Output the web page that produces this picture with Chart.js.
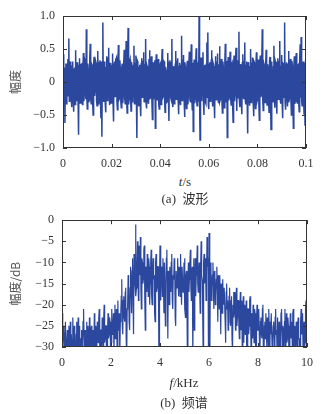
<!DOCTYPE html>
<html>
<head>
<meta charset="utf-8">
<script src="https://cdn.jsdelivr.net/npm/chart.js@4"></script>
<style>
  body { margin: 0; background: #fff; width: 323px; height: 414px; position: relative; overflow: hidden; }
  canvas { position: absolute; left: 0; }
  .lbl { position: absolute; transform: translate(-50%, -50%); white-space: nowrap;
         font-family: "Liberation Serif", "Noto Sans CJK SC", serif; font-size: 13px; color: #333; }
</style>
</head>
<body>
<canvas id="wave" width="323" height="172" style="top:0"></canvas>
<canvas id="spec" width="323" height="166" style="top:205px"></canvas>
<div class="lbl" style="left:185px;top:182px"><i>t</i>/s</div>
<div class="lbl" style="left:185px;top:197px">(a)&nbsp;&nbsp;波形</div>
<div class="lbl" style="left:184px;top:383px"><i>f</i>/kHz</div>
<div class="lbl" style="left:184px;top:401px">(b)&nbsp;&nbsp;频谱</div>
<script>
// (a) waveform, one sample every 0.2 ms from 0 to 0.1 s
const waveStep = 0.0002;
const waveValues = [
  0.42,-0.25,-0.31,0.22,-0.62,0.18,0.28,-0.33,-0.18,0.27,0.35,-0.21,0.66,-0.29,-0.24,0.31,0.12,-0.26,-0.38,0.24,
  0.31,-0.28,-0.45,0.19,0.22,-0.34,0.48,-0.23,-0.29,0.30,0.17,-0.27,-0.80,0.25,0.36,-0.32,-0.21,0.26,0.27,-0.30,
  -0.34,0.24,0.44,-0.29,-0.15,0.33,0.30,-0.26,0.80,-0.22,-0.41,0.28,0.19,-0.31,-0.27,0.35,0.58,-0.24,-0.33,0.27,
  0.25,-0.30,-0.50,0.26,0.38,-0.21,-0.12,0.32,0.29,-0.28,-0.36,0.23,0.47,-0.33,-0.22,0.29,0.33,-0.25,-0.55,0.31,
  -0.83,0.27,0.90,-0.26,-0.30,0.31,0.24,-0.34,-0.46,0.22,0.39,-0.28,-0.18,0.36,0.52,-0.23,-0.35,0.29,0.21,-0.32,
  -0.28,0.25,0.43,-0.31,-0.60,0.27,0.31,-0.22,-0.16,0.34,0.37,-0.29,-0.42,0.24,0.56,-0.27,-0.25,0.33,0.19,-0.30,
  -0.39,0.23,0.28,-0.32,-0.21,0.29,0.49,-0.25,-0.33,0.30,0.62,-0.28,-0.47,0.26,0.82,-0.34,-0.26,0.31,0.34,-0.22,
  -0.44,0.30,0.23,-0.27,-0.31,0.25,0.55,-0.33,-0.19,0.28,0.40,-0.24,-0.85,0.32,0.30,-0.29,-0.37,0.22,0.26,-0.35,
  -0.52,0.28,0.36,-0.23,-0.14,0.31,0.45,-0.30,-0.29,0.26,0.65,-0.32,-0.40,0.24,0.21,-0.28,-0.33,0.35,0.48,-0.25,
  -0.24,0.29,0.39,-0.31,-0.57,0.23,0.30,-0.26,-0.18,0.33,-0.70,0.27,0.42,-0.22,-0.27,0.30,0.35,-0.34,-0.41,0.25,
  0.27,-0.29,-0.34,0.26,0.50,-0.24,-0.22,0.32,0.31,-0.27,-0.46,0.23,0.18,-0.31,-0.30,0.28,0.44,-0.25,-0.59,0.30,
  0.33,-0.22,-0.25,0.29,0.65,-0.30,-0.38,0.24,0.20,-0.33,-0.31,0.27,0.47,-0.26,-0.16,0.31,0.36,-0.28,-0.49,0.23,
  0.29,-0.31,-0.35,0.25,0.70,-0.28,-0.27,0.33,0.41,-0.23,-0.53,0.30,0.22,-0.27,-0.40,0.26,0.32,-0.34,-0.19,0.28,
  0.46,-0.26,-0.30,0.31,0.57,-0.24,-0.42,0.29,-0.75,0.22,0.34,-0.32,-0.24,0.27,0.51,-0.29,-0.36,0.25,0.28,-0.30,
  1.00,-0.27,-0.88,0.30,0.37,-0.25,-0.29,0.32,0.45,-0.28,-0.50,0.24,0.26,-0.31,-0.33,0.27,0.60,-0.23,0.75,-0.34,
  -0.41,0.26,0.30,-0.29,-0.22,0.33,0.48,-0.24,-0.37,0.28,0.25,-0.31,-0.55,0.23,0.39,-0.27,-0.18,0.30,0.43,-0.25,
  -0.32,0.27,0.54,-0.30,-0.26,0.24,0.35,-0.28,-0.47,0.31,0.21,-0.23,-0.39,0.29,0.58,-0.26,-0.30,0.32,-0.84,0.25,
  0.38,-0.28,-0.23,0.31,0.46,-0.25,-0.35,0.27,0.29,-0.32,-0.61,0.24,0.40,-0.29,-0.20,0.33,0.52,-0.26,-0.44,0.28,
  0.33,-0.24,0.76,-0.30,-0.38,0.26,0.27,-0.33,-0.49,0.29,0.42,-0.22,-0.26,0.31,0.60,-0.27,-0.34,0.25,0.31,-0.29,
  -0.78,0.30,0.24,-0.27,-0.36,0.23,0.50,-0.31,-0.21,0.28,0.37,-0.25,-0.52,0.32,0.29,-0.24,-0.40,0.27,0.45,-0.30,
  -0.27,0.25,0.34,-0.32,-0.58,0.28,0.40,-0.23,-0.19,0.30,0.80,-0.26,-0.43,0.29,0.26,-0.31,-0.31,0.24,0.49,-0.28,
  -0.35,0.27,0.22,-0.29,-0.46,0.32,0.38,-0.24,-0.72,0.26,0.31,-0.30,-0.25,0.23,0.55,-0.28,-0.39,0.31,0.28,-0.25,
  -0.48,0.29,0.36,-0.26,-0.20,0.31,0.62,-0.27,-0.33,0.24,0.41,-0.32,-0.55,0.28,0.27,-0.23,0.90,-0.30,-0.42,0.26,
  0.30,-0.25,-0.37,0.28,0.47,-0.31,-0.24,0.26,0.35,-0.29,-0.50,0.32,0.23,-0.27,-0.70,0.24,0.39,-0.33,-0.29,0.30,
  0.44,-0.28,-0.32,0.25,0.26,-0.30,-0.45,0.33,0.57,-0.24,0.68,-0.29,-0.36,0.27,0.31,-0.26,-0.48,0.29,-0.65,0.31,
  0.40
];
const waveTicksX = [0, 0.02, 0.04, 0.06, 0.08, 0.1];
const waveTicksY = [-1, -0.5, 0, 0.5, 1];

// (b) spectrum in dB, one bin every 0.02 kHz from 0 to 10 kHz
const specStep = 0.02;
const specValues = [
  -22,-27,-31,-25,-26,-30,-33,-24,-24,-34,-29,-26,-35,-28,-25,-31,-28,-24,-32,-27,
  -27,-32,-23,-29,-31,-25,-26,-35,-34,-27,-24,-30,-28,-23,-30,-26,-25,-33,-33,-28,
  -26,-30,-29,-24,-21,-28,-32,-26,-27,-31,-24,-29,-31,-25,-28,-34,-23,-27,-35,-26,
  -25,-29,-30,-26,-27,-32,-22,-28,-33,-25,-26,-31,-24,-27,-29,-23,-21,-30,-31,-26,
  -26,-31,-23,-27,-30,-24,-20,-29,-28,-25,-25,-34,-33,-26,-22,-28,-27,-23,-24,-30,
  -29,-24,-21,-27,-26,-22,-31,-25,-20,-28,-24,-21,-28,-33,-19,-26,-25,-22,-32,-24,
  -22,-18,-14,-25,-27,-19,-18,-23,-24,-17,-16,-28,-33,-21,-20,-13,-15,-24,-26,-16,
  -11,-17,-22,-12,-9,-20,-27,-8,-13,-15,-1,-18,-16,-10,-5,-14,-19,-6,-7,-13,
  -4,-16,-21,-9,-10,-15,-14,-7,-6,-19,-26,-11,-12,-17,-8,-13,-18,-9,-11,-20,
  -15,-10,-7,-18,-20,-12,-9,-14,-13,-22,-24,-10,-8,-17,-16,-11,-11,-19,-36,-14,
  -6,-16,-19,-11,-12,-18,-9,-14,-22,-10,-10,-25,-15,-9,-7,-17,-28,-12,-13,-20,
  -11,-15,-17,-10,-8,-19,-21,-13,-14,-9,-10,-23,-25,-12,-12,-16,-9,-14,-18,-11,
  -13,-18,-8,-15,-20,-11,-11,-17,-16,-10,-9,-21,-23,-13,-12,-19,-35,-15,-10,-17,
  -14,-10,-7,-16,-19,-12,-11,-33,-15,-9,-26,-14,-9,-18,-13,-11,-6,-15,-17,-12,
  -10,-16,-22,-11,-5,-13,-14,-20,-31,-10,-8,-15,-12,-9,-19,-13,-4,-11,-9,-35,
  -3,-14,-35,-10,-12,-19,-16,-13,-10,-17,-21,-12,-13,-20,-18,-14,-11,-16,-24,-13,
  -15,-21,-13,-18,-27,-15,-17,-22,-14,-19,-20,-16,-16,-24,-29,-17,-15,-21,-19,-26,
  -22,-18,-16,-24,-25,-19,-18,-28,-31,-20,-17,-23,-21,-17,-26,-20,-16,-25,-23,-19,
  -19,-25,-28,-21,-17,-26,-24,-19,-33,-22,-18,-29,-22,-20,-27,-23,-19,-31,-30,-21,
  -21,-27,-25,-19,-18,-24,-32,-22,-23,-28,-20,-25,-29,-21,-22,-30,-35,-24,-20,-26,
  -26,-22,-21,-29,-31,-24,-23,-27,-28,-21,-20,-33,-34,-25,-24,-28,-22,-26,-30,-23,
  -25,-30,-21,-26,-33,-24,-27,-22,-22,-31,-29,-25,-24,-28,-36,-23,-21,-27,-26,-32,
  -23,-28,-31,-24,-25,-33,-28,-22,-21,-27,-34,-25,-26,-30,-24,-21,-32,-26,-22,-29,
  -28,-23,-25,-31,-35,-26,-22,-28,-27,-24,-30,-22,-21,-29,-33,-25,-26,-30,-24,-27,
  -31,-25,-23,-28,-28,-33,-35,-24,-21,-27,-26,-22,-32,-26,-24,-30,-29,-21,-19,-28,
  -27
];
const specTicksX = [0, 2, 4, 6, 8, 10];
const specTicksY = [-30, -25, -20, -15, -10, -5, 0];

const lineColor = '#2b479e';
const tickFont = { family: '"Liberation Serif", serif', size: 12 };
const titleFont = { family: '"Noto Sans CJK SC", sans-serif', size: 12 };

function minus(v, digits) {
  if (v === 0) return '0';
  const s = digits ? Math.abs(v).toFixed(digits) : String(Math.abs(v));
  return (v < 0 ? '\u2212' : '') + s;
}

// box round the plot with short inward ticks on all four sides
const frameTicks = {
  id: 'frameTicks',
  afterDraw(chart) {
    const { ctx, chartArea: a, scales: { x, y } } = chart;
    ctx.save();
    ctx.strokeStyle = '#333';
    ctx.lineWidth = 1;
    ctx.beginPath();
    x.ticks.forEach(t => {
      const px = Math.round(x.getPixelForValue(t.value)) + 0.5;
      ctx.moveTo(px, a.bottom); ctx.lineTo(px, a.bottom - 4);
      ctx.moveTo(px, a.top); ctx.lineTo(px, a.top + 4);
    });
    y.ticks.forEach(t => {
      const py = Math.round(y.getPixelForValue(t.value)) + 0.5;
      ctx.moveTo(a.left, py); ctx.lineTo(a.left + 4, py);
      ctx.moveTo(a.right, py); ctx.lineTo(a.right - 4, py);
    });
    ctx.stroke();
    ctx.strokeRect(Math.round(a.left) + 0.5, Math.round(a.top) + 0.5,
                   Math.round(a.width) - 1, Math.round(a.height) - 1);
    ctx.restore();
  }
};

function makeChart(id, opts) {
  const points = opts.values.map((v, i) => ({ x: i * opts.step, y: v }));
  return new Chart(document.getElementById(id), {
    type: 'line',
    data: { datasets: [{ data: points, borderColor: lineColor, borderWidth: opts.lineWidth,
                         pointRadius: 0, tension: 0, fill: false }] },
    options: {
      responsive: false,
      animation: false,
      devicePixelRatio: 1,
      layout: { padding: opts.padding },
      plugins: { legend: { display: false }, tooltip: { enabled: false } },
      scales: {
        x: {
          type: 'linear', min: opts.ticksX[0], max: opts.ticksX[opts.ticksX.length - 1],
          afterBuildTicks: s => { s.ticks = opts.ticksX.map(v => ({ value: v })); },
          afterFit: s => { s.height = opts.xHeight; },
          grid: { display: false, drawTicks: false },
          border: { display: false },
          ticks: { padding: 9, color: '#333', font: tickFont, maxRotation: 0,
                   callback: v => opts.fmtX(v) }
        },
        y: {
          min: opts.ticksY[0], max: opts.ticksY[opts.ticksY.length - 1],
          afterBuildTicks: s => { s.ticks = opts.ticksY.map(v => ({ value: v })); },
          afterFit: s => { s.width = opts.yWidth; },
          grid: { display: false, drawTicks: false },
          border: { display: false },
          ticks: { padding: 8, color: '#333', font: tickFont, callback: v => opts.fmtY(v) },
          title: { display: true, text: opts.yTitle, color: '#555', font: titleFont,
                   padding: { top: 8, bottom: 0 } }
        }
      }
    },
    plugins: [frameTicks]
  });
}

makeChart('wave', {
  values: waveValues, step: waveStep,
  ticksX: waveTicksX, ticksY: waveTicksY,
  fmtX: v => v === 0 ? '0' : String(+v.toFixed(2)),
  fmtY: v => minus(v, 1),
  yTitle: '幅度',
  padding: { top: 16, right: 17, left: 0, bottom: 0 },
  yWidth: 63, xHeight: 24, lineWidth: 1.5
});

makeChart('spec', {
  values: specValues, step: specStep,
  ticksX: specTicksX, ticksY: specTicksY,
  fmtX: v => String(v),
  fmtY: v => minus(v, 0),
  yTitle: '幅度/dB',
  padding: { top: 8, right: 16, left: 0, bottom: 0 },
  yWidth: 62, xHeight: 24, lineWidth: 1.2
});
</script>
</body>
</html>
